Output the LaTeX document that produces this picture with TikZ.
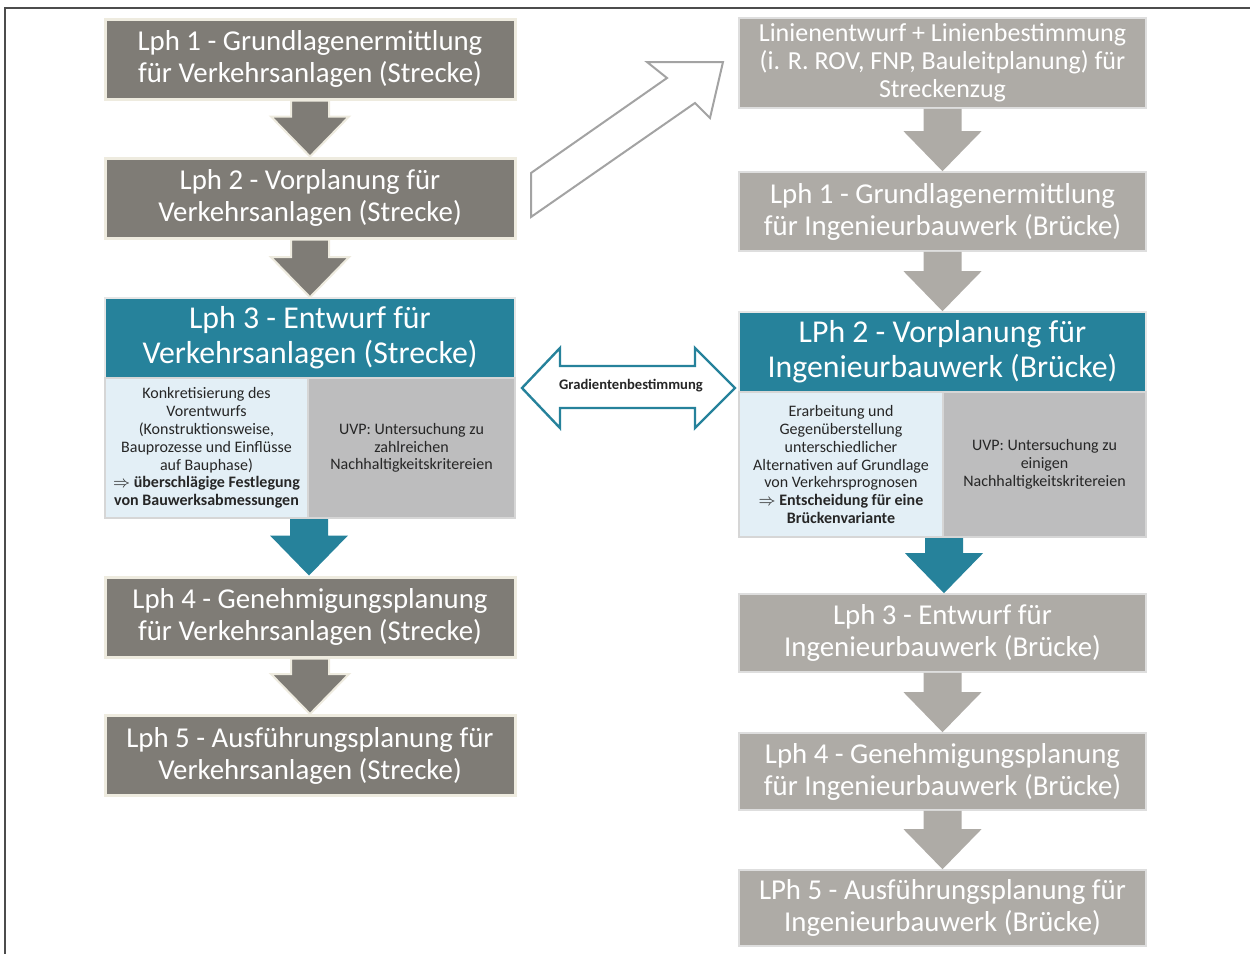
\documentclass[tikz,border=0pt]{standalone}
\usepackage{fontspec}
\setmainfont{Carlito}
\usetikzlibrary{calc}

\definecolor{boxdark}{HTML}{7F7C76}
\definecolor{boxlight}{HTML}{AEABA6}
\definecolor{phteal}{HTML}{26829B}
\definecolor{subblue}{HTML}{E3EFF6}
\definecolor{subgray}{HTML}{BDBDBE}
\definecolor{cream}{HTML}{EEEBDF}
\definecolor{rimgray}{HTML}{D6D6D6}
\definecolor{hollow}{HTML}{A3A3A3}

\tikzset{
  phase/.style={text=white, align=center, inner sep=0pt, font=\fontsize{14.4}{16}\selectfont},
  leftphase/.style={phase, fill=boxdark, draw=cream, line width=1.5pt, minimum width=205pt, minimum height=40pt},
  rightphase/.style={phase, fill=boxlight, draw=rimgray!80, line width=0.8pt, minimum width=203.5pt},
  header/.style={phase, fill=phteal, draw=rimgray!60, line width=0.8pt, font=\fontsize{15.9}{17.5}\selectfont, minimum height=40pt},
  detail/.style={align=center, inner sep=0pt, text=black!85, draw=rimgray, line width=1pt, font=\fontsize{8}{8.9}\selectfont},
  darkarrow/.style={fill=boxdark, draw=cream, line width=1pt},
  lightarrow/.style={fill=boxlight},
  tealarrow/.style={fill=phteal}
}

% block arrow between two anchors: from, to, style
\newcommand\phasearrow[3]{%
  \path[#3] let \p1=(#1), \p2=(#2) in
    (\x1-9.5pt,\y1) -- (\x1+9.5pt,\y1) -- (\x1+9.5pt,\y2+20pt) -- (\x1+19.5pt,\y2+20pt)
    -- (\x1,\y2) -- (\x1-19.5pt,\y2+20pt) -- (\x1-9.5pt,\y2+20pt) -- cycle;}

\begin{document}
\begin{tikzpicture}[x=0.5pt,y=-0.5pt]
\useasboundingbox (0,0) rectangle (1250,954);
\draw[black!70, line width=1pt] (5,954) -- (5,8) -- (1250,8);

% left column: Strecke
\node[leftphase] (l1) at (310,59) {Lph 1 - Grundlagenermittlung\\für Verkehrsanlagen (Strecke)};
\node[leftphase] (l2) at (310,198) {Lph 2 - Vorplanung für\\Verkehrsanlagen (Strecke)};
\node[header, minimum width=205pt] (l3) at (310,338) {Lph 3 - Entwurf für\\Verkehrsanlagen (Strecke)};
\node[detail, fill=subblue, minimum width=101.5pt, minimum height=70pt] (l3a) at (206.5,448)
  {Konkretisierung des\\Vorentwurfs\\(Konstruktionsweise,\\Bauprozesse und Einflüsse\\auf Bauphase)\\
   \textbf{$\Rightarrow$ überschlägige Festlegung}\\\textbf{von Bauwerksabmessungen}};
\node[detail, fill=subgray, minimum width=103.5pt, minimum height=70pt] (l3b) at (411.5,448)
  {UVP: Untersuchung zu\\zahlreichen\\Nachhaltigkeitskritereien};
\node[leftphase] (l4) at (310,617) {Lph 4 - Genehmigungsplanung\\für Verkehrsanlagen (Strecke)};
\node[leftphase] (l5) at (310,755.5) {Lph 5 - Ausführungsplanung für\\Verkehrsanlagen (Strecke)};

% right column: Bruecke
\node[rightphase, minimum height=45pt, font=\fontsize{13}{14}\selectfont] (r0) at (942.5,63)
  {Linienentwurf + Linienbestimmung\\(i. R. ROV, FNP, Bauleitplanung) für\\Streckenzug};
\node[rightphase, minimum height=39.5pt] (r1) at (942.5,211.5) {Lph 1 - Grundlagenermittlung\\für Ingenieurbauwerk (Brücke)};
\node[header, minimum width=203.5pt] (r2) at (942.5,352) {LPh 2 - Vorplanung für\\Ingenieurbauwerk (Brücke)};
\node[detail, fill=subblue, minimum width=102pt, minimum height=72.5pt] (r2a) at (841,464.5)
  {Erarbeitung und\\Gegenüberstellung\\unterschiedlicher\\Alternativen auf Grundlage\\von Verkehrsprognosen\\
   \textbf{$\Rightarrow$ Entscheidung für eine}\\\textbf{Brückenvariante}};
\node[detail, fill=subgray, minimum width=101.5pt, minimum height=72.5pt] (r2b) at (1044.5,464.5)
  {UVP: Untersuchung zu\\einigen\\Nachhaltigkeitskritereien};
\node[rightphase, minimum height=39pt] (r3) at (942.5,633) {Lph 3 - Entwurf für\\Ingenieurbauwerk (Brücke)};
\node[rightphase, minimum height=38.5pt] (r4) at (942.5,771.5) {Lph 4 - Genehmigungsplanung\\für Ingenieurbauwerk (Brücke)};
\node[rightphase, minimum height=38pt] (r5) at (942.5,908) {LPh 5 - Ausführungsplanung für\\Ingenieurbauwerk (Brücke)};

% arrows down
\phasearrow{l1.south}{l2.north}{darkarrow}
\phasearrow{l2.south}{l3.north}{darkarrow}
\phasearrow{l3a.south east}{l4.north}{tealarrow}
\phasearrow{l4.south}{l5.north}{darkarrow}
\phasearrow{r0.south}{r1.north}{lightarrow}
\phasearrow{r1.south}{r2.north}{lightarrow}
\phasearrow{r2a.south east}{r3.north}{tealarrow}
\phasearrow{r3.south}{r4.north}{lightarrow}
\phasearrow{r4.south}{r5.north}{lightarrow}

% hollow arrow to Linienentwurf
\draw[hollow, line width=1pt, fill=white, line join=miter]
  (531,173) -- (667,78) -- (647,62) -- (723,62) -- (710,118) -- (695,103) -- (531,217) -- cycle;

% double arrow between the two design phases
\node[font=\bfseries\fontsize{7.3}{8}\selectfont, text=black!85] (grad) at (631,386) {Gradientenbestimmung};
\draw[phteal, line width=1.2pt, line join=miter]
  (522,388) -- (560,348) -- (560,366) -- (695,366) -- (695,348) -- (735,388)
  -- (695,428) -- (695,408) -- (560,408) -- (560,428) -- cycle;
\end{tikzpicture}
\end{document}
